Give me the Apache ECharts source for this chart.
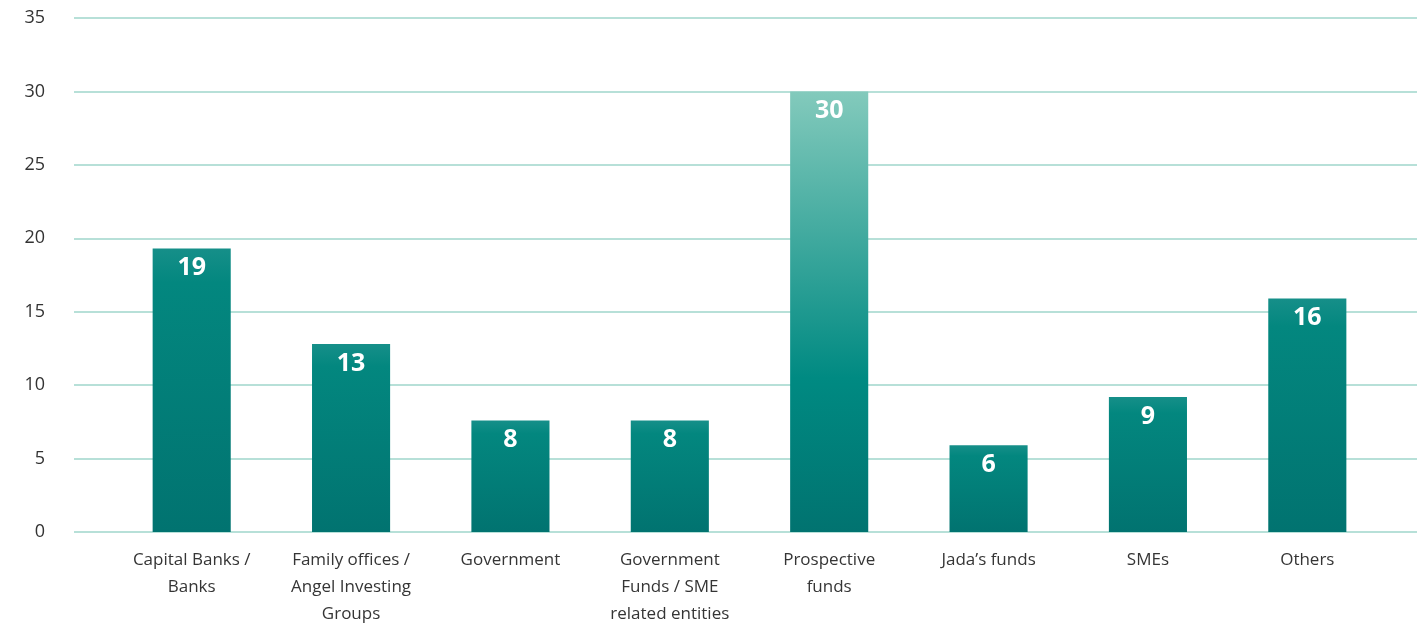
<!DOCTYPE html>
<html>
<head>
<meta charset="utf-8">
<script src="https://cdn.jsdelivr.net/npm/echarts@6/dist/echarts.min.js"></script>
<style>
  html, body { margin: 0; padding: 0; background: #fff; }
  #main { width: 1417px; height: 627px; }
</style>
</head>
<body>
<div id="main"></div>
<script>
// categories, bar heights, printed labels
var categories = [
  'Capital Banks /\nBanks',
  'Family offices /\nAngel Investing\nGroups',
  'Government',
  'Government\nFunds / SME\nrelated entities',
  'Prospective\nfunds',
  'Jada\u2019s funds',
  'SMEs',
  'Others'
];
var values = [19.3, 12.8, 7.6, 7.6, 30, 5.9, 9.2, 15.9];
var valueLabels = [19, 13, 8, 8, 30, 6, 9, 16];
var yTicks = [0, 5, 10, 15, 20, 25, 30, 35];

var font = '"Open Sans", "Noto Sans", sans-serif';

var normalFill = new echarts.graphic.LinearGradient(0, 0, 0, 1, [
  { offset: 0, color: '#168f89' },
  { offset: 0.12, color: '#03877f' },
  { offset: 1, color: '#017370' }
]);
var lightFill = new echarts.graphic.LinearGradient(0, 0, 0, 1, [
  { offset: 0, color: '#83cabc' },
  { offset: 0.65, color: '#008a82' },
  { offset: 1, color: '#017370' }
]);

var chart = echarts.init(document.getElementById('main'), null, { renderer: 'canvas' });

var option = {
  backgroundColor: '#fff',
  animation: false,
  // grid 0 carries the wide split lines, grid 1 the bars
  grid: [
    { left: 74, right: 0, top: 18, bottom: 95, containLabel: false, outerBoundsMode: 'none' },
    { left: 112, right: 30, top: 18, bottom: 95, containLabel: false, outerBoundsMode: 'none' }
  ],
  xAxis: [
    { gridIndex: 0, type: 'value', show: false, min: 0, max: 1 },
    {
      gridIndex: 1,
      type: 'category',
      data: categories,
      axisLine: { show: false },
      axisTick: { show: false },
      axisLabel: {
        interval: 0,
        margin: 15,
        color: '#353535',
        fontSize: 17,
        lineHeight: 27,
        fontFamily: font
      }
    }
  ],
  yAxis: [
    {
      gridIndex: 0,
      type: 'value',
      min: 0,
      max: 35,
      interval: 5,
      axisLine: { show: false },
      axisTick: { show: false },
      axisLabel: {
        margin: 29,
        color: '#333',
        fontSize: 18,
        fontFamily: font,
        formatter: function (v) { return yTicks.indexOf(v) >= 0 ? String(v) : ''; }
      },
      splitLine: { lineStyle: { color: '#9fd6cb', width: 1.5 } }
    },
    {
      gridIndex: 1,
      type: 'value',
      min: 0,
      max: 35,
      interval: 5,
      show: false,
      splitLine: { show: false }
    }
  ],
  series: [{
    type: 'bar',
    xAxisIndex: 1,
    yAxisIndex: 1,
    barWidth: '49%',
    data: values.map(function (v) {
      return {
        value: v,
        itemStyle: { color: v === 30 ? lightFill : normalFill }
      };
    }),
    label: {
      show: true,
      position: 'insideTop',
      distance: 7,
      color: '#fff',
      fontSize: 25,
      fontWeight: 'bold',
      fontFamily: font,
      formatter: function (p) { return String(valueLabels[p.dataIndex]); }
    }
  }]
};

chart.setOption(option);
</script>
</body>
</html>
